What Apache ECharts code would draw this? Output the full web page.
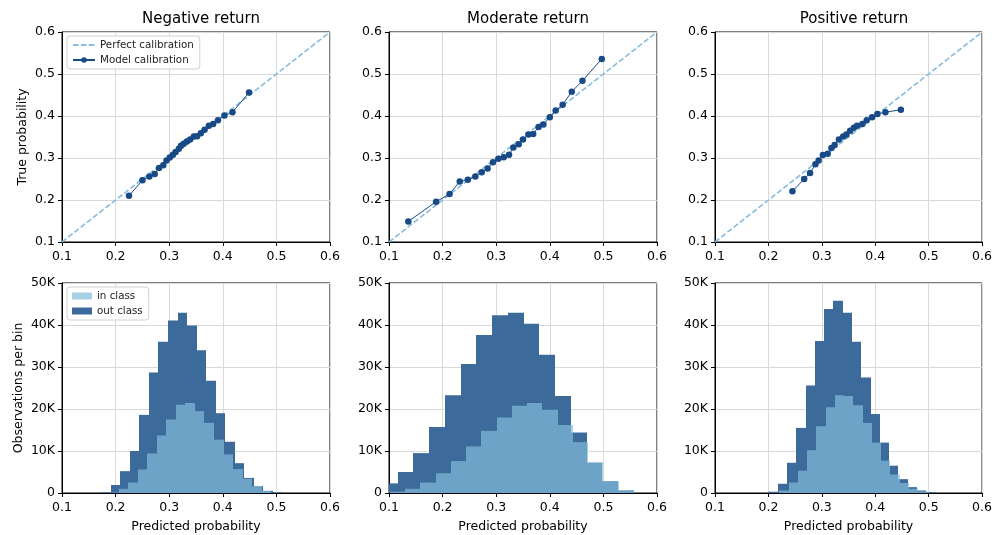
<!DOCTYPE html>
<html>
<head>
<meta charset="utf-8">
<script src="https://cdn.jsdelivr.net/npm/echarts@6/dist/echarts.min.js"></script>
<style>
  html, body { margin: 0; padding: 0; background: #fff; }
  #chartRoot { width: 995px; height: 535px; }
</style>
</head>
<body>
<div id="chartRoot"></div>
<script>
// calibration curves (predicted, true)
const negX = [0.225, 0.250, 0.263, 0.273, 0.281, 0.289, 0.295, 0.301, 0.307, 0.312, 0.318, 0.322, 0.327, 0.333, 0.339, 0.346, 0.352, 0.359, 0.366, 0.374, 0.382, 0.391, 0.403, 0.418, 0.449];
const negY = [0.210, 0.247, 0.256, 0.262, 0.276, 0.283, 0.294, 0.301, 0.308, 0.314, 0.322, 0.329, 0.334, 0.339, 0.344, 0.351, 0.352, 0.359, 0.367, 0.377, 0.381, 0.390, 0.401, 0.409, 0.456];
const modX = [0.136, 0.188, 0.213, 0.232, 0.247, 0.261, 0.273, 0.284, 0.294, 0.304, 0.314, 0.324, 0.332, 0.342, 0.350, 0.360, 0.369, 0.379, 0.388, 0.400, 0.411, 0.424, 0.441, 0.461, 0.497];
const modY = [0.149, 0.196, 0.214, 0.244, 0.248, 0.256, 0.266, 0.275, 0.290, 0.298, 0.302, 0.308, 0.325, 0.333, 0.344, 0.356, 0.357, 0.374, 0.380, 0.397, 0.413, 0.427, 0.458, 0.484, 0.536];
const posX = [0.245, 0.267, 0.278, 0.288, 0.294, 0.302, 0.311, 0.318, 0.324, 0.332, 0.340, 0.346, 0.353, 0.360, 0.366, 0.376, 0.384, 0.394, 0.404, 0.419, 0.448];
const posY = [0.221, 0.250, 0.264, 0.285, 0.294, 0.307, 0.310, 0.324, 0.331, 0.344, 0.351, 0.356, 0.365, 0.372, 0.377, 0.381, 0.390, 0.397, 0.405, 0.409, 0.415];
const perfectLine = [0.1, 0.6];

// histograms: bin edges and counts
const negOutEdges = [0.1734, 0.1912, 0.2090, 0.2267, 0.2445, 0.2623, 0.2800, 0.2978, 0.3156, 0.3333, 0.3511, 0.3689, 0.3866, 0.4044, 0.4222, 0.4399, 0.4577, 0.4755, 0.4932, 0.5110];
const negOutCounts = [150, 1900, 5200, 10000, 18600, 28700, 36000, 41100, 42900, 39900, 34000, 26700, 19000, 12200, 7100, 3600, 1600, 500, 150];
const negInEdges = [0.1878, 0.2056, 0.2234, 0.2412, 0.2590, 0.2768, 0.2946, 0.3124, 0.3302, 0.3480, 0.3658, 0.3836, 0.4014, 0.4192, 0.4370, 0.4548, 0.4726, 0.4904];
const negInCounts = [100, 1000, 2500, 5600, 9400, 13700, 17500, 21000, 21400, 19500, 16700, 12700, 9200, 5700, 3400, 1600, 500];

const modOutEdges = [0.0868, 0.1162, 0.1456, 0.1749, 0.2043, 0.2337, 0.2630, 0.2924, 0.3218, 0.3512, 0.3805, 0.4099, 0.4393, 0.4686, 0.4980, 0.5274, 0.5568];
const modOutCounts = [2300, 5000, 9500, 15700, 23300, 30700, 37600, 42300, 42900, 40300, 32900, 23100, 14400, 7200, 2800, 600];
const modInEdges = [0.1015, 0.1299, 0.1583, 0.1868, 0.2152, 0.2437, 0.2721, 0.3006, 0.3290, 0.3575, 0.3859, 0.4144, 0.4428, 0.4713, 0.4997, 0.5282, 0.5566];
const modInCounts = [300, 1000, 2500, 4700, 7600, 11100, 14800, 18000, 20800, 21400, 19800, 16200, 12100, 7300, 2800, 600];

const posOutEdges = [0.2000, 0.2174, 0.2348, 0.2522, 0.2696, 0.2870, 0.3043, 0.3217, 0.3391, 0.3565, 0.3739, 0.3913, 0.4087, 0.4261, 0.4435, 0.4609, 0.4783, 0.4957, 0.5131];
const posOutCounts = [300, 2200, 7200, 15500, 25600, 36200, 43800, 45800, 42900, 36000, 27500, 18800, 12000, 6500, 3300, 1400, 600, 200];
const posInEdges = [0.2205, 0.2378, 0.2551, 0.2725, 0.2898, 0.3071, 0.3244, 0.3418, 0.3591, 0.3764, 0.3937, 0.4111, 0.4284, 0.4457, 0.4630, 0.4804, 0.4977];
const posInCounts = [600, 2500, 5300, 10200, 15900, 20400, 23300, 23100, 20900, 16700, 12000, 7700, 4400, 2400, 1000, 400];

const titles = ["Negative return", "Moderate return", "Positive return"];

const FONT = "DejaVu Sans";
const lefts = [62, 389, 715];
const panelW = 268;

const zip = (xs, ys) => xs.map((x, i) => [x, ys[i]]);
const bins = (edges, counts) => counts.map((c, i) => [edges[i], edges[i + 1], c]);

function renderHist(params, api) {
  const p0 = api.coord([api.value(0), 0]);
  const p1 = api.coord([api.value(1), api.value(2)]);
  const x0 = Math.round(p0[0]);
  const x1 = Math.round(p1[0]);
  const cs = params.coordSys;
  const shape = echarts.graphic.clipRectByRect(
    { x: x0, y: p1[1], width: x1 - x0, height: p0[1] - p1[1] },
    { x: cs.x, y: cs.y, width: cs.width, height: cs.height }
  );
  if (!shape) return;
  return { type: "rect", shape: shape, style: api.style() };
}

function xAxisCfg(grid, showName) {
  return {
    type: "value", gridIndex: grid, min: 0.1, max: 0.6, interval: 0.1,
    name: showName ? "Predicted probability" : "",
    nameLocation: "middle", nameGap: 27,
    nameTextStyle: { color: "#000", fontSize: 12.5, fontFamily: FONT },
    axisLine: { show: true, onZero: false, lineStyle: { color: "#000", width: 1 } },
    axisTick: { show: true, length: 4, lineStyle: { color: "#000" } },
    axisLabel: { color: "#000", fontSize: 12.5, fontFamily: FONT, margin: 8,
      formatter: (v) => v.toFixed(1) },
    splitLine: { show: true, lineStyle: { color: "#d9d9d9", width: 1 } },
  };
}

function yAxisCfg(grid, kind, showName) {
  const base = {
    type: "value", gridIndex: grid,
    nameLocation: "middle",
    nameTextStyle: { color: "#000", fontSize: 12.5, fontFamily: FONT },
    axisLine: { show: true, lineStyle: { color: "#000", width: 1 } },
    axisTick: { show: true, length: 4, lineStyle: { color: "#000" } },
    splitLine: { show: true, lineStyle: { color: "#d9d9d9", width: 1 } },
  };
  if (kind === "prob") {
    return Object.assign(base, {
      min: 0.1, max: 0.6, interval: 0.1,
      name: showName ? "True probability" : "", nameGap: 33,
      axisLabel: { color: "#000", fontSize: 12.5, fontFamily: FONT, margin: 7,
        formatter: (v) => v.toFixed(1) },
    });
  }
  return Object.assign(base, {
    min: 0, max: 50000, interval: 10000,
    name: showName ? "Observations per bin" : "", nameGap: 37,
    axisLabel: { color: "#000", fontSize: 12.5, fontFamily: FONT, margin: 7,
      formatter: (v) => (v === 0 ? "0" : v / 1000 + "K") },
  });
}

const grids = [];
const xAxes = [];
const yAxes = [];
for (let i = 0; i < 3; i++) {
  grids.push({ left: lefts[i], top: 32, width: panelW, height: 210, show: true, borderColor: "#000", borderWidth: 1 });
  xAxes.push(xAxisCfg(i, false));
  yAxes.push(yAxisCfg(i, "prob", i === 0));
}
for (let i = 0; i < 3; i++) {
  grids.push({ left: lefts[i], top: 283, width: panelW, height: 210, show: true, borderColor: "#000", borderWidth: 1 });
  xAxes.push(xAxisCfg(i + 3, true));
  yAxes.push(yAxisCfg(i + 3, "count", i === 0));
}

const calib = [zip(negX, negY), zip(modX, modY), zip(posX, posY)];
const histOut = [bins(negOutEdges, negOutCounts), bins(modOutEdges, modOutCounts), bins(posOutEdges, posOutCounts)];
const histIn = [bins(negInEdges, negInCounts), bins(modInEdges, modInCounts), bins(posInEdges, posInCounts)];

const series = [];
for (let i = 0; i < 3; i++) {
  series.push({
    name: "Perfect calibration", type: "line", xAxisIndex: i, yAxisIndex: i,
    data: perfectLine.map((v) => [v, v]), symbol: "none", silent: true,
    lineStyle: { color: "#86bcdd", width: 1.6, type: [5.5, 2.4] },
    itemStyle: { color: "#86bcdd" },
  });
  series.push({
    name: "Model calibration", type: "line", xAxisIndex: i, yAxisIndex: i,
    data: calib[i], symbol: "circle", symbolSize: 6.5, showSymbol: true,
    lineStyle: { color: "#174a87", width: 1 },
    itemStyle: { color: "#174a87" },
  });
}
for (let i = 0; i < 3; i++) {
  series.push({
    name: "out class", type: "custom", xAxisIndex: i + 3, yAxisIndex: i + 3,
    renderItem: renderHist, data: histOut[i], encode: { x: [0, 1], y: 2 },
    itemStyle: { color: "#3c6a9a" },
  });
  series.push({
    name: "in class", type: "custom", xAxisIndex: i + 3, yAxisIndex: i + 3,
    renderItem: renderHist, data: histIn[i], encode: { x: [0, 1], y: 2 },
    itemStyle: { color: "rgba(131,188,219,0.7)" },
  });
}

const legendBase = {
  orient: "vertical", left: 67, itemGap: 5, padding: [4, 6, 4, 5],
  borderColor: "#d0d0d0", borderWidth: 1, borderRadius: 3,
  backgroundColor: "rgba(255,255,255,0.85)",
  textStyle: { color: "#222", fontSize: 10.3, fontFamily: FONT },
};

const option = {
  animation: false,
  backgroundColor: "#fff",
  title: titles.map((t, i) => ({
    text: t, left: lefts[i] + panelW / 2, top: 7, textAlign: "center",
    textStyle: { color: "#000", fontSize: 15, fontWeight: "normal", fontFamily: FONT },
  })),
  legend: [
    Object.assign({}, legendBase, {
      top: 36, itemWidth: 22, itemHeight: 7,
      data: [
        { name: "Perfect calibration", itemStyle: { opacity: 0 } },
        "Model calibration",
      ],
    }),
    Object.assign({}, legendBase, {
      top: 287, itemWidth: 20, itemHeight: 7, icon: "rect",
      data: ["in class", "out class"],
    }),
  ],
  grid: grids,
  xAxis: xAxes,
  yAxis: yAxes,
  series: series,
};

const myChart = echarts.init(document.getElementById("chartRoot"));
myChart.setOption(option);
</script>
</body>
</html>
